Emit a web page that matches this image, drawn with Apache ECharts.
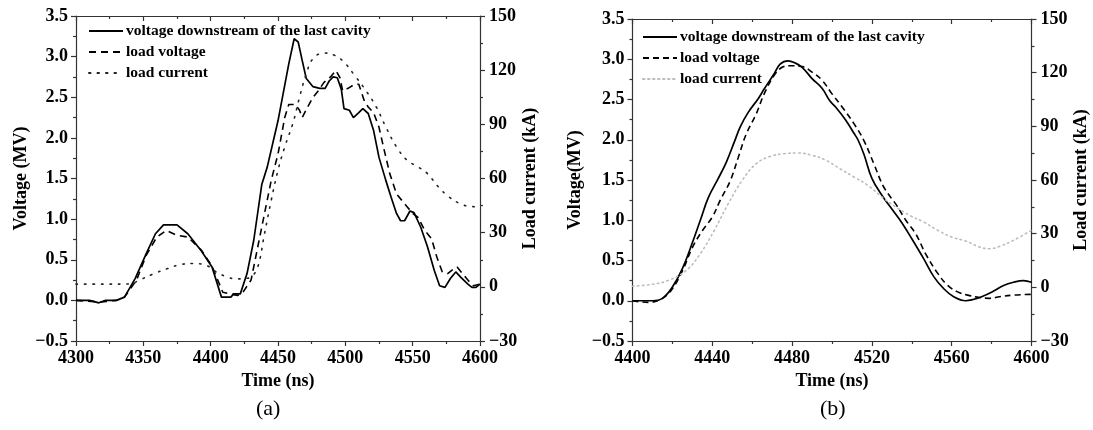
<!DOCTYPE html>
<html>
<head>
<meta charset="utf-8">
<script src="https://cdn.jsdelivr.net/npm/echarts@6/dist/echarts.min.js"></script>
<style>
html,body{margin:0;padding:0;background:#fff;}
#c{width:1093px;height:430px;}
</style>
</head>
<body>
<div id="c"></div>
<script>
// ---------- data: panel (a) ----------
const aSolidT = [4300,4310,4317,4322,4330,4336,4344,4352,4359,4365,4375,4383,4393,4401,4408,4415,4417,4422,4427,4432,4438,4442,4450,4458,4462,4465,4468,4471,4476,4481,4485,4488,4491,4494,4497,4499,4503,4506,4510,4513,4517,4521,4525,4530,4534,4538,4541,4544,4548,4551,4556,4561,4566,4570,4574,4578,4582,4586,4591,4594,4597,4600];
const aSolidV = [0,0,-0.03,0,0,0.04,0.27,0.57,0.82,0.93,0.93,0.82,0.61,0.41,0.04,0.04,0.08,0.08,0.33,0.74,1.43,1.64,2.21,2.91,3.22,3.18,2.95,2.73,2.63,2.61,2.61,2.70,2.75,2.74,2.60,2.36,2.34,2.25,2.31,2.36,2.30,2.09,1.76,1.48,1.27,1.07,0.98,0.98,1.10,1.08,0.90,0.66,0.37,0.18,0.16,0.27,0.35,0.28,0.20,0.16,0.16,0.20];
const aDashT = [4300,4318,4330,4336,4345,4352,4360,4367,4375,4383,4393,4401,4409,4414,4420,4424,4430,4435,4440,4445,4450,4455,4458,4463,4466,4468,4472,4476,4480,4484,4489,4493,4496,4498,4502,4507,4510,4514,4517,4521,4525,4529,4533,4538,4542,4546,4550,4554,4559,4564,4568,4572,4576,4579,4583,4587,4591,4595,4600];
const aDashV = [0,-0.02,0,0.04,0.25,0.55,0.78,0.86,0.80,0.78,0.62,0.42,0.10,0.08,0.06,0.10,0.25,0.66,1.07,1.48,1.80,2.25,2.41,2.41,2.34,2.25,2.38,2.50,2.58,2.68,2.75,2.83,2.74,2.58,2.61,2.66,2.66,2.46,2.38,2.31,2.13,1.84,1.56,1.31,1.23,1.15,1.07,1.02,0.86,0.76,0.53,0.35,0.33,0.37,0.41,0.33,0.25,0.18,0.20];
const aCurT = [4300,4320,4340,4347,4357,4368,4378,4388,4394,4399,4404,4412,4419,4425,4430,4435,4440,4445,4450,4455,4461,4466,4471,4476,4484,4492,4499,4507,4515,4523,4530,4538,4546,4554,4561,4569,4577,4585,4592,4600];
const aCurI = [1.5,1.5,1.6,3.7,7.0,10.1,12.4,12.9,12.5,11.1,8.3,5.5,4.4,4.6,5.5,11,29.5,48,64.6,77.5,90.4,105,118,126.4,129.5,128.2,124.5,117,109,99.6,88.6,77.5,70,66.4,62.7,55.4,49.8,46.1,44.6,44.3];

// ---------- data: panel (b) ----------
const bSolidT = [4400,4410,4415,4420,4425,4430,4434,4438,4443,4447,4451,4454,4458,4463,4466,4471,4474,4478,4481,4485,4490,4495,4499,4502,4507,4511,4513,4516,4520,4525,4530,4535,4540,4546,4551,4556,4561,4567,4570,4575,4581,4586,4591,4596,4600];
const bSolidV = [0,0,0.03,0.17,0.40,0.72,1.0,1.28,1.52,1.72,1.97,2.16,2.34,2.51,2.63,2.82,2.94,2.98,2.96,2.90,2.76,2.64,2.48,2.40,2.24,2.08,2.0,1.82,1.52,1.31,1.14,0.97,0.77,0.52,0.30,0.15,0.05,0.00,0.01,0.05,0.12,0.19,0.23,0.25,0.23];
const bDashT = [4400,4408,4415,4420,4425,4430,4435,4440,4444,4449,4453,4457,4462,4466,4471,4475,4479,4485,4490,4495,4500,4505,4511,4516,4521,4526,4532,4537,4542,4547,4553,4558,4563,4568,4574,4579,4584,4591,4600];
const bDashV = [0,-0.02,0.03,0.15,0.37,0.66,0.87,1.04,1.25,1.49,1.78,2.07,2.32,2.57,2.80,2.90,2.92,2.91,2.84,2.74,2.57,2.41,2.20,1.99,1.70,1.41,1.20,1.00,0.83,0.58,0.34,0.19,0.11,0.07,0.04,0.03,0.05,0.07,0.08];
const bCurT = [4400,4410,4418,4427,4434,4441,4448,4455,4462,4469,4476,4483,4490,4497,4504,4511,4518,4525,4532,4539,4546,4553,4560,4567,4574,4579,4584,4591,4600];
const bCurI = [0.6,1.7,3.9,9.5,18.8,31.9,46.8,59.8,69.1,73.2,74.7,75.1,73.8,71,66.3,61.7,57,50.5,44.9,40.2,36.5,31.9,28.1,25.9,22.5,21.6,22.9,26.3,31.9];

// ---------- names / labels ----------
const seriesNames = ['voltage downstream of the last cavity', 'load voltage', 'load current'];
const panelLabels = ['(a)', '(b)'];
const xTitle = 'Time (ns)';
const yLeftTitles = ['Voltage (MV)', 'Voltage(MV)'];
const yRightTitle = 'Load current (kA)';

const FONT = '"Liberation Serif","Times New Roman",serif';
const AX = '#333';
const zip = (t, v) => t.map((x, i) => [x, v[i]]);
const minus = s => String(s).replace('-', '\u2212');

function xAxisPair(grid, min, max, interval) {
  return [
    {
      type: 'value', gridIndex: grid, position: 'bottom', min, max, interval,
      name: xTitle, nameLocation: 'middle', nameGap: 31,
      nameTextStyle: {fontFamily: FONT, fontWeight: 'bold', fontSize: 18, color: '#000'},
      axisLine: {show: true, onZero: false, lineStyle: {color: AX, width: 1.2}},
      axisTick: {show: true, inside: false, length: 5, lineStyle: {color: AX, width: 1.2}},
      minorTick: {show: true, splitNumber: 2, length: 3, lineStyle: {color: AX, width: 1.2}},
      axisLabel: {fontFamily: FONT, fontWeight: 'bold', fontSize: 18, color: '#000', margin: 8,
        formatter: v => String(v)},
      splitLine: {show: false}, minorSplitLine: {show: false}
    },
    {
      type: 'value', gridIndex: grid, position: 'top', min, max, interval,
      axisLine: {show: true, onZero: false, lineStyle: {color: AX, width: 1.2}},
      axisTick: {show: true, inside: true, length: 5, lineStyle: {color: AX, width: 1.2}},
      minorTick: {show: true, splitNumber: 2, length: 3, lineStyle: {color: AX, width: 1.2}},
      axisLabel: {show: false},
      splitLine: {show: false}, minorSplitLine: {show: false}
    }
  ];
}
function yAxisPair(grid, leftTitle, leftGap, rightGap) {
  return [
    {
      type: 'value', gridIndex: grid, position: 'left', min: -0.5, max: 3.5, interval: 0.5,
      name: leftTitle, nameLocation: 'middle', nameGap: leftGap, nameRotate: 90,
      nameTextStyle: {fontFamily: FONT, fontWeight: 'bold', fontSize: 18, color: '#000'},
      axisLine: {show: true, onZero: false, lineStyle: {color: AX, width: 1.2}},
      axisTick: {show: true, inside: false, length: 5, lineStyle: {color: AX, width: 1.2}},
      minorTick: {show: true, splitNumber: 2, length: 3, lineStyle: {color: AX, width: 1.2}},
      axisLabel: {fontFamily: FONT, fontWeight: 'bold', fontSize: 18, color: '#000', margin: 8,
        formatter: v => minus(v.toFixed(1))},
      splitLine: {show: false}, minorSplitLine: {show: false}
    },
    {
      type: 'value', gridIndex: grid, position: 'right', min: -30, max: 150, interval: 30,
      name: yRightTitle, nameLocation: 'middle', nameGap: rightGap, nameRotate: 90,
      nameTextStyle: {fontFamily: FONT, fontWeight: 'bold', fontSize: 18, color: '#000'},
      axisLine: {show: true, onZero: false, lineStyle: {color: AX, width: 1.2}},
      axisTick: {show: true, inside: false, length: 5, lineStyle: {color: AX, width: 1.2}},
      minorTick: {show: true, splitNumber: 2, length: 3, lineStyle: {color: AX, width: 1.2}},
      axisLabel: {fontFamily: FONT, fontWeight: 'bold', fontSize: 18, color: '#000', margin: 9,
        formatter: v => minus(v)},
      splitLine: {show: false}, minorSplitLine: {show: false}
    }
  ];
}

function line(name, xi, yi, data, style, smooth) {
  return {
    type: 'line', name, xAxisIndex: xi, yAxisIndex: yi, data,
    showSymbol: false, symbol: 'none', smooth: smooth, animation: false,
    lineStyle: style, itemStyle: {color: style.color}
  };
}

const sfx = '\u200b';
const styles = {
  aSolid: {color: '#000', width: 1.7, type: 'solid'},
  aDash: {color: '#000', width: 1.6, type: [7, 5]},
  aDot: {color: '#222', width: 1.6, type: [1.5, 7], cap: 'round'},
  bSolid: {color: '#000', width: 1.7, type: 'solid'},
  bDash: {color: '#000', width: 1.6, type: [6, 4]},
  bDot: {color: '#bcbcbc', width: 1.6, type: [1.5, 3.5], cap: 'round'}
};

const legendCommon = {
  orient: 'vertical', itemWidth: 34, itemHeight: 12, itemGap: 5,
  itemStyle: {opacity: 0},
  textStyle: {fontFamily: FONT, fontWeight: 'bold', fontSize: 15.5, color: '#000', padding: [0, 0, 0, -2]},
  selectedMode: false, padding: 0
};

const option = {
  animation: false,
  backgroundColor: '#fff',
  grid: [
    {left: 76, top: 16, width: 404, height: 325},
    {left: 632.5, top: 19, width: 399, height: 322}
  ],
  xAxis: [...xAxisPair(0, 4300, 4600, 50), ...xAxisPair(1, 4400, 4600, 40)],
  yAxis: [...yAxisPair(0, yLeftTitles[0], 46, 36), ...yAxisPair(1, yLeftTitles[1], 48, 37)],
  legend: [
    Object.assign({}, legendCommon, {left: 88, top: 23, data: seriesNames}),
    Object.assign({}, legendCommon, {left: 642, top: 29, data: seriesNames.map(n => n + sfx)})
  ],
  graphic: [
    {type: 'text', left: 256, top: 398, style: {text: panelLabels[0], font: '22px ' + FONT, fill: '#000'}},
    {type: 'text', left: 820, top: 398, style: {text: panelLabels[1], font: '22px ' + FONT, fill: '#000'}}
  ],
  series: [
    line(seriesNames[0], 0, 0, zip(aSolidT, aSolidV), styles.aSolid, false),
    line(seriesNames[1], 0, 0, zip(aDashT, aDashV), styles.aDash, false),
    line(seriesNames[2], 0, 1, zip(aCurT, aCurI), styles.aDot, 0.4),
    line(seriesNames[0] + sfx, 2, 2, zip(bSolidT, bSolidV), styles.bSolid, 0.4),
    line(seriesNames[1] + sfx, 2, 2, zip(bDashT, bDashV), styles.bDash, 0.4),
    line(seriesNames[2] + sfx, 2, 3, zip(bCurT, bCurI), styles.bDot, 0.4)
  ]
};
option.legend[0].formatter = n => n;
option.legend[1].formatter = n => n.replace(sfx, '');

const chart = echarts.init(document.getElementById('c'), null, {renderer: 'canvas'});
chart.setOption(option);
</script>
</body>
</html>
